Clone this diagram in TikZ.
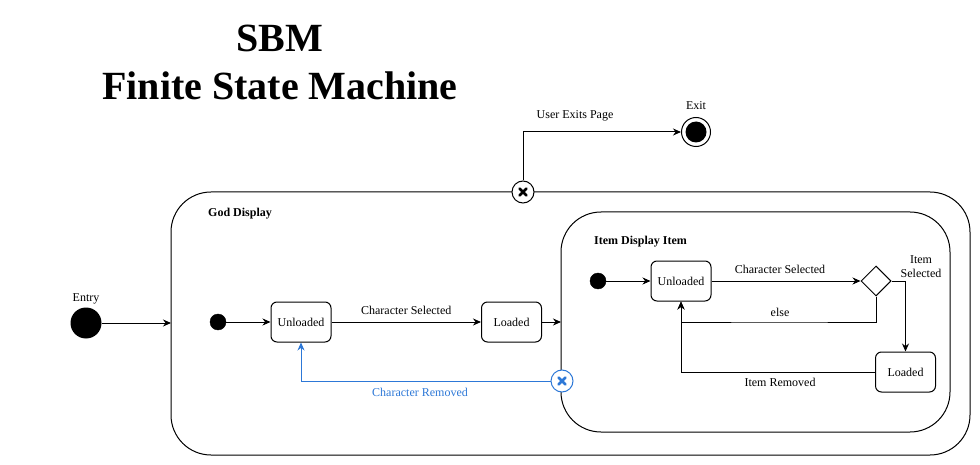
\documentclass[tikz,border=0pt]{standalone}
\usepackage{fontspec}
\setmainfont{Liberation Serif}
\usetikzlibrary{arrows.meta,shapes.geometric,calc}
\definecolor{bluel}{RGB}{45,120,215}
\tikzset{
  lbl/.style={font=\fontsize{12}{14}\selectfont, inner sep=0pt},
  boldlbl/.style={font=\bfseries\fontsize{12}{14}\selectfont, inner sep=0pt, anchor=west},
  state/.style={draw, rounded corners=6pt, minimum width=60pt, minimum height=40pt, inner sep=0pt, font=\fontsize{12}{14}\selectfont, line width=1pt},
  region/.style={draw, rounded corners=40pt, line width=1pt},
  initdot/.style={circle, fill=black, draw=black, minimum size=16pt, inner sep=0pt},
  arr/.style={-{Stealth[length=8pt,width=7pt]}, line width=1pt},
  xpt/.style={circle, draw, fill=white, minimum size=22pt, inner sep=0pt, line width=1pt},
  xmark/.style={line width=2.6pt, line cap=round},
}
\begin{document}
\begin{tikzpicture}[x=1pt,y=-1pt]
\useasboundingbox (0,0) rectangle (980,465);
% title
\node[font=\bfseries\fontsize{40}{48}\selectfont, align=center, inner sep=0pt] (title) at (280,62) {SBM\\Finite State Machine};
% regions
\draw[region] (171,192) rectangle (970,455);
\coordinate (outerL) at (171,323);
\node[boldlbl] (godlbl) at (208,214) {God Display};
\draw[region] (561,212) rectangle (950,432);
\coordinate (innerL) at (561,322);
\node[boldlbl] (itemlbl) at (594,242) {Item Display Item};
% entry
\node[circle, fill=black, minimum size=31pt, inner sep=0pt] (entry) at (86,323) {};
\node[lbl] (entrylbl) at (86,299) {Entry};
\draw[arr] (entry) -- (outerL);
% exit
\node[xpt] (exitpt) at (523,192) {};
\draw[xmark] ($(exitpt)+(-3.5,-3.5)$) -- ($(exitpt)+(3.5,3.5)$);
\draw[xmark] ($(exitpt)+(-3.5,3.5)$) -- ($(exitpt)+(3.5,-3.5)$);
\node[circle, draw, line width=1pt, minimum size=29pt, inner sep=0pt] (exit) at (696,132) {};
\node[circle, fill=black, minimum size=21pt, inner sep=0pt] (exitin) at (696,132) {};
\node[lbl] (exitlbl) at (696,106) {Exit};
\draw[arr] (exitpt.north) |- (exit.west);
\node[lbl] (uep) at (575,116) {User Exits Page};
% god display content
\node[initdot] (init1) at (218,322) {};
\node[state] (unl1) at (301,322) {Unloaded};
\node[state] (load1) at (511.5,322) {Loaded};
\draw[arr] (init1) -- (unl1);
\draw[arr] (unl1) -- node[lbl, above=7pt] (cs1) {Character Selected} (load1);
\draw[arr] (load1) -- (innerL);
% blue exit point
\node[xpt, draw=bluel] (bexit) at (562,381) {};
\draw[xmark, draw=bluel] ($(bexit)+(-3.5,-3.5)$) -- ($(bexit)+(3.5,3.5)$);
\draw[xmark, draw=bluel] ($(bexit)+(-3.5,3.5)$) -- ($(bexit)+(3.5,-3.5)$);
\draw[arr, color=bluel] (bexit.west) -| (unl1.south);
\node[lbl, text=bluel] (crlbl) at (420,392) {Character Removed};
% item display content
\node[initdot] (init2) at (598,281) {};
\node[state] (unl2) at (681,281) {Unloaded};
\node[diamond, draw, line width=1pt, minimum width=30pt, minimum height=30pt, inner sep=0pt] (dec) at (876,281) {};
\node[state] (load2) at (905.5,372) {Loaded};
\draw[arr] (init2) -- (unl2);
\draw[arr] (unl2) -- (dec);
\node[lbl] (cs2) at (780,269) {Character Selected};
\draw[arr] (dec.south) |- (780,322) -| (unl2.south);
\node[lbl] (elselbl) at (780,312) {else};
\draw[arr] (dec.east) -| (load2.north);
\node[lbl, align=center] (islbl) at (921,267) {Item\\Selected};
\draw[arr] (load2.west) -| (unl2.south);
\node[lbl] (irlbl) at (780,382) {Item Removed};
\end{tikzpicture}
\end{document}
